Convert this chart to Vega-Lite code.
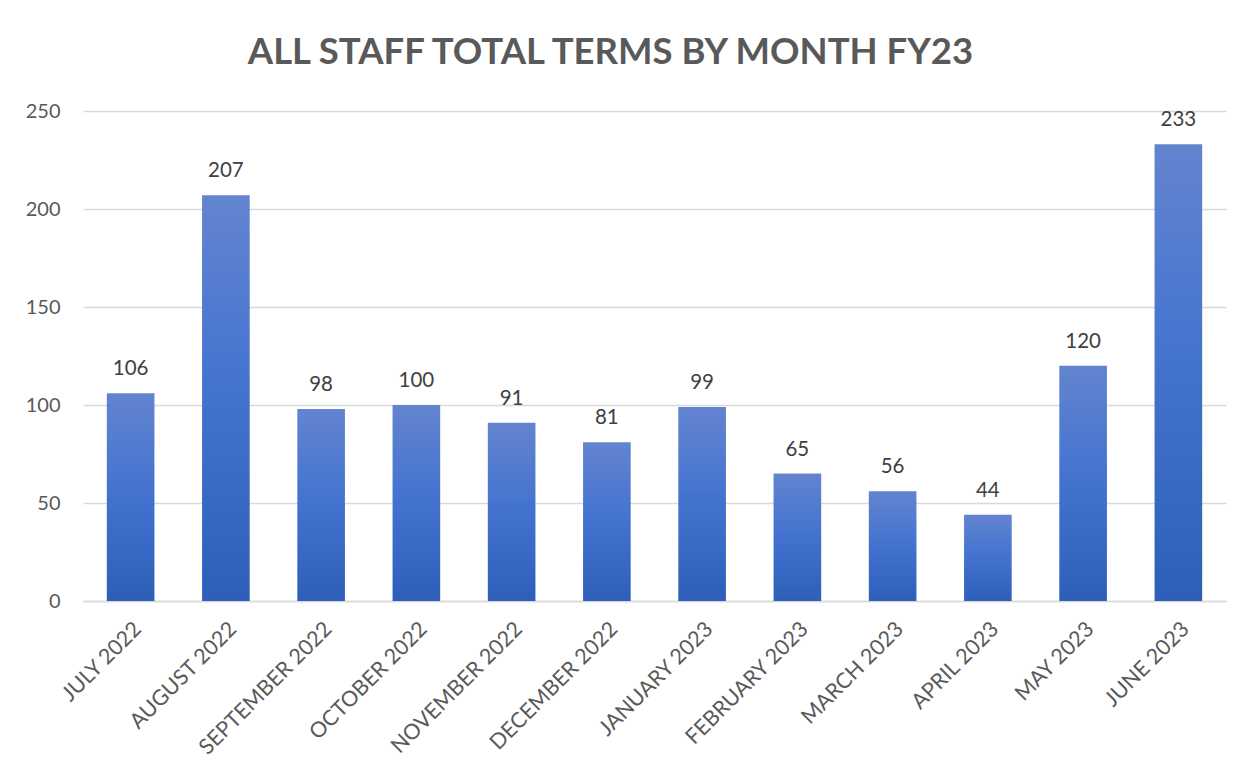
{
  "$schema": "https://vega.github.io/schema/vega-lite/v6.json",
  "autosize": {"type": "none"},
  "padding": {"left": 83, "top": 111, "right": 27, "bottom": 171},
  "width": 1143,
  "height": 490,
  "background": "white",
  "title": {
    "text": "ALL STAFF TOTAL TERMS BY MONTH FY23",
    "font": "Lato",
    "fontSize": 36.5,
    "fontWeight": "bold",
    "color": "#595959",
    "anchor": "middle",
    "dx": -44,
    "offset": 30
  },
  "data": {
    "values": [
      {"month": "JULY 2022", "terms": 106},
      {"month": "AUGUST 2022", "terms": 207},
      {"month": "SEPTEMBER 2022", "terms": 98},
      {"month": "OCTOBER 2022", "terms": 100},
      {"month": "NOVEMBER 2022", "terms": 91},
      {"month": "DECEMBER 2022", "terms": 81},
      {"month": "JANUARY 2023", "terms": 99},
      {"month": "FEBRUARY 2023", "terms": 65},
      {"month": "MARCH 2023", "terms": 56},
      {"month": "APRIL 2023", "terms": 44},
      {"month": "MAY 2023", "terms": 120},
      {"month": "JUNE 2023", "terms": 233}
    ]
  },
  "encoding": {
    "x": {
      "field": "month",
      "type": "nominal",
      "sort": null,
      "scale": {"paddingInner": 0.5, "paddingOuter": 0.25},
      "axis": {
        "title": null,
        "labelAngle": -45,
        "labelFont": "Lato",
        "labelFontSize": 21.5,
        "labelColor": "#595959",
        "labelPadding": 17,
        "ticks": false,
        "domainColor": "#d9d9d9",
        "domainWidth": 1.5
      }
    },
    "y": {
      "field": "terms",
      "type": "quantitative",
      "scale": {"domain": [0, 250]},
      "axis": {
        "title": null,
        "values": [0, 50, 100, 150, 200, 250],
        "labelFont": "Lato",
        "labelFontSize": 20,
        "labelColor": "#595959",
        "labelPadding": 23,
        "ticks": false,
        "domain": false,
        "gridColor": "#d9d9d9",
        "gridWidth": 1.5
      }
    }
  },
  "layer": [
    {
      "mark": {
        "type": "bar",
        "color": {
          "gradient": "linear",
          "x1": 0, "y1": 0, "x2": 0, "y2": 1,
          "stops": [
            {"offset": 0, "color": "#6384cf"},
            {"offset": 0.45, "color": "#4574d0"},
            {"offset": 1, "color": "#2d5fb9"}
          ]
        }
      }
    },
    {
      "mark": {
        "type": "text",
        "font": "Lato",
        "fontSize": 20.5,
        "color": "#404040",
        "baseline": "alphabetic",
        "dy": -18
      },
      "encoding": {"text": {"field": "terms", "type": "quantitative"}}
    }
  ],
  "config": {"view": {"stroke": null}}
}
